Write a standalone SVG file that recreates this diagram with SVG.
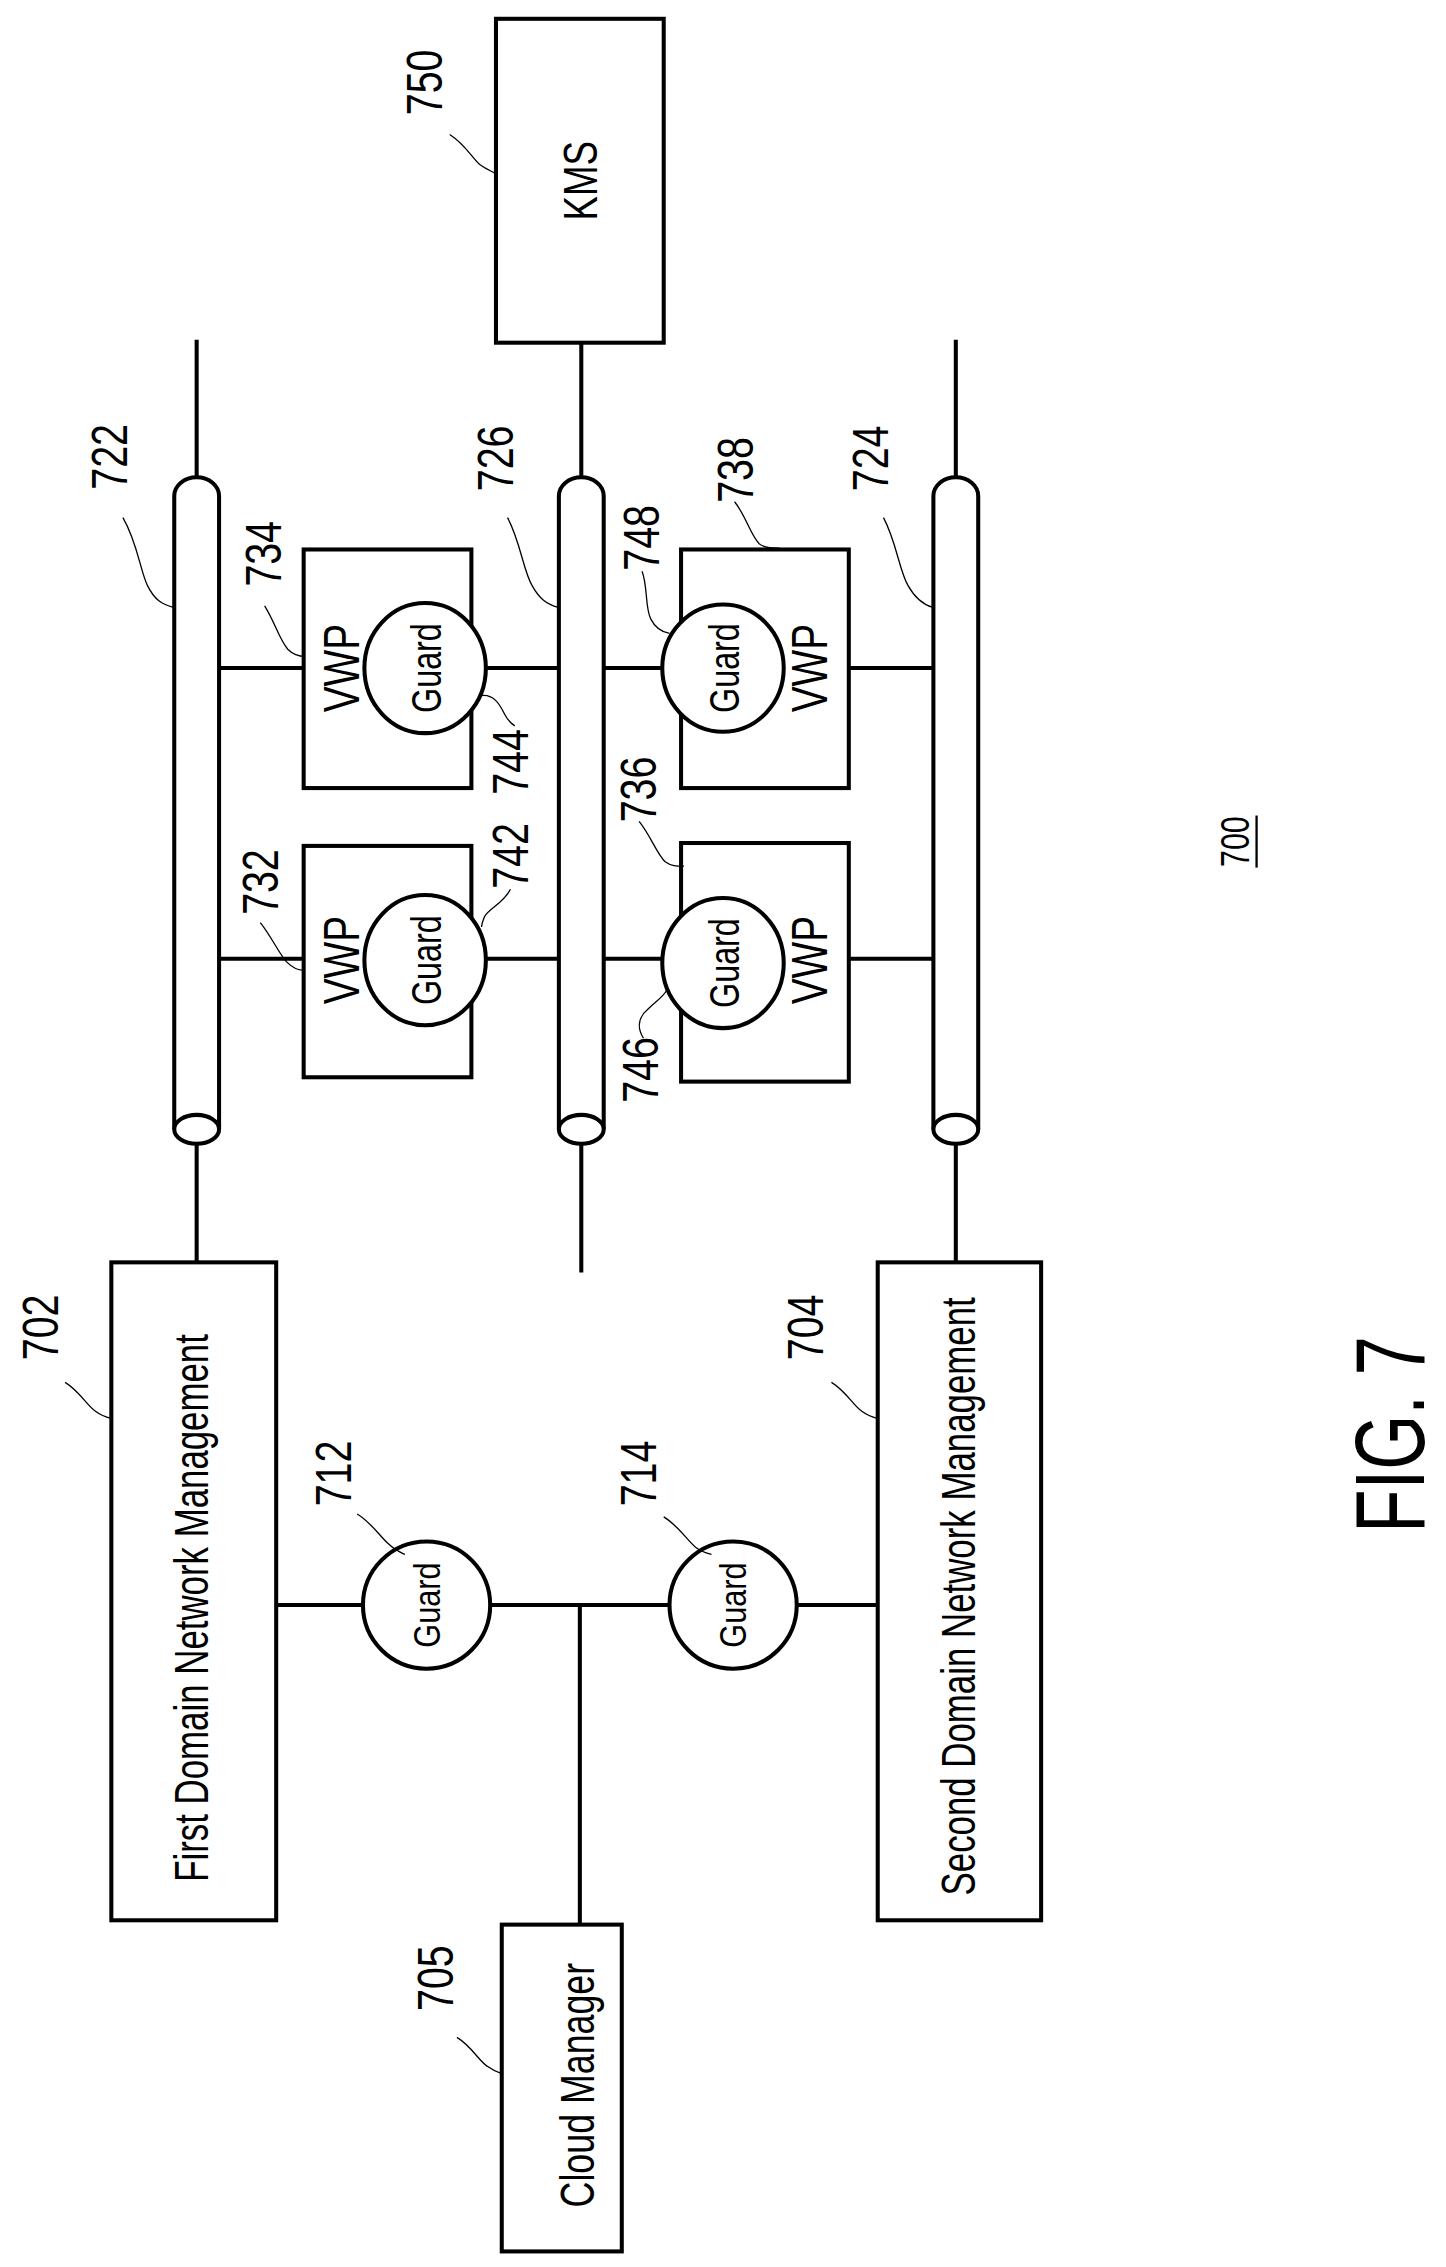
<svg xmlns="http://www.w3.org/2000/svg" width="1446" height="2267" viewBox="0 0 1446 2267">
<style>
.s{fill:none;stroke:#000;stroke-width:2.8}
.w{fill:#fff;stroke:#000;stroke-width:2.8}
.l{fill:none;stroke:#000;stroke-width:0.9}
text{font-family:"Liberation Sans",Arial,sans-serif;fill:#000;text-anchor:middle}
.n{font-size:34px}
.b{font-size:33px}
.g{font-size:29px}
.gs{font-size:25px}
.v{font-size:34px}
</style>
<rect width="1446" height="2267" fill="#fff"/>
<g transform="scale(1.446)">
<g id="connectors">
<path class="s" d="M136,235V330 M136,781V873 M402,237V330 M402,781V880 M661,235V330 M661,781V873"/>
<path class="s" d="M191,1110H251 M339,1110H463 M551,1110H607 M401,1110V1331"/>
<path class="s" d="M151,663H210 M336,663H386 M418,663H458 M587,663H646"/>
<path class="s" d="M151,462H210 M336,462H386 M418,462H458 M587,462H646"/>
</g>
<g id="n722"><path class="w" d="M120.5,781V343A15.5,13 0 0 1 151.5,343V781"/><ellipse class="w" cx="136" cy="781" rx="15.5" ry="10"/><text class="n" transform="translate(88,316) rotate(-90) scale(0.8,1)">722</text><path class="l" d="M85,358C95,375 97,395 102,405C107,415 112,418 120,420"/></g>
<g id="n726"><path class="w" d="M386.5,781V343A15.5,13 0 0 1 417.5,343V781"/><ellipse class="w" cx="402" cy="781" rx="15.5" ry="10"/><text class="n" transform="translate(355,317) rotate(-90) scale(0.8,1)">726</text><path class="l" d="M351,358C360,375 362,395 368,405C373,414 378,418 386,420"/></g>
<g id="n724"><path class="w" d="M645.5,781V343A15.5,13 0 0 1 676.5,343V781"/><ellipse class="w" cx="661" cy="781" rx="15.5" ry="10"/><text class="n" transform="translate(614,317) rotate(-90) scale(0.8,1)">724</text><path class="l" d="M611,358C620,375 622,395 628,405C633,414 638,418 645,420"/></g>
<g id="n750"><rect class="w" x="343" y="13" width="116" height="224"/><text class="b" transform="translate(413,125) rotate(-90) scale(0.77,1)">KMS</text><text class="n" transform="translate(306,57) rotate(-90) scale(0.8,1)">750</text><path class="l" d="M311,93C322,100 327,110 332,114C336,117 339,118 343,120"/></g>
<g id="n702"><rect class="w" x="77" y="873" width="114" height="455"/><text class="b" transform="translate(144,1112) rotate(-90) scale(0.73,1)">First Domain Network Management</text><text class="n" transform="translate(40,918) rotate(-90) scale(0.8,1)">702</text><path class="l" d="M45,956C55,962 60,972 66,976C70,979 73,980 77,981"/></g>
<g id="n704"><rect class="w" x="607" y="873" width="113" height="455"/><text class="b" transform="translate(674,1104) rotate(-90) scale(0.73,1)">Second Domain Network Management</text><text class="n" transform="translate(569,918) rotate(-90) scale(0.8,1)">704</text><path class="l" d="M575,956C585,962 590,972 596,976C600,979 603,980 607,981"/></g>
<g id="n705"><rect class="w" x="347" y="1331" width="83" height="226"/><text class="b" transform="translate(411,1442) rotate(-90) scale(0.75,1)">Cloud Manager</text><text class="n" transform="translate(313,1368) rotate(-90) scale(0.8,1)">705</text><path class="l" d="M316,1409C326,1415 331,1425 337,1429C341,1432 344,1433 347,1434"/></g>
<g id="n712"><circle class="w" cx="295" cy="1110" r="44"/><text class="gs" transform="translate(304,1110) rotate(-90) scale(0.85,1)">Guard</text><text class="n" transform="translate(243,1019) rotate(-90) scale(0.8,1)">712</text><path class="l" d="M247,1047C257,1053 263,1063 269,1068C273,1072 276,1073 280,1075"/></g>
<g id="n714"><circle class="w" cx="507" cy="1110" r="44"/><text class="gs" transform="translate(516,1110) rotate(-90) scale(0.85,1)">Guard</text><text class="n" transform="translate(454,1019) rotate(-90) scale(0.8,1)">714</text><path class="l" d="M459,1049C469,1055 475,1065 481,1070C485,1073 488,1074 492,1075"/></g>
<g id="n732"><rect class="w" x="210" y="585" width="116" height="160"/><text class="v" transform="translate(248,664) rotate(-90) scale(0.79,1)">VWP</text><text class="n" transform="translate(192,610) rotate(-90) scale(0.8,1)">732</text><path class="l" d="M180,638C188,648 192,658 198,665C202,669 206,671 210,671"/></g>
<g id="n734"><rect class="w" x="210" y="380" width="116" height="165"/><text class="v" transform="translate(248,462) rotate(-90) scale(0.79,1)">VWP</text><text class="n" transform="translate(194,383) rotate(-90) scale(0.8,1)">734</text><path class="l" d="M183,419C190,430 193,442 199,449C203,453 207,454 211,454"/></g>
<g id="n736"><rect class="w" x="471" y="583" width="116" height="165"/><text class="v" transform="translate(572,664) rotate(-90) scale(0.79,1)">VWP</text><text class="n" transform="translate(454,546) rotate(-90) scale(0.8,1)">736</text><path class="l" d="M442,568C450,578 454,590 460,596C464,599 468,599 473,599"/></g>
<g id="n738"><rect class="w" x="471" y="380" width="116" height="165"/><text class="v" transform="translate(572,462) rotate(-90) scale(0.79,1)">VWP</text><text class="n" transform="translate(521,325) rotate(-90) scale(0.8,1)">738</text><path class="l" d="M508,347C516,357 519,370 525,376C529,379 533,379 539,379"/></g>
<g id="n742"><ellipse class="w" cx="294" cy="664" rx="42" ry="45"/><text class="g" transform="translate(305,664) rotate(-90) scale(0.77,1)">Guard</text><text class="n" transform="translate(365,592) rotate(-90) scale(0.8,1)">742</text><path class="l" d="M353,615C348,625 338,628 335,634C334,637 333,639 333,641"/></g>
<g id="n744"><ellipse class="w" cx="294" cy="462" rx="42" ry="45"/><text class="g" transform="translate(305,462) rotate(-90) scale(0.77,1)">Guard</text><text class="n" transform="translate(365,527) rotate(-90) scale(0.8,1)">744</text><path class="l" d="M333,481C342,480 346,488 349,494C351,498 353,500 356,502"/></g>
<g id="n746"><ellipse class="w" cx="500" cy="666" rx="42" ry="45"/><text class="g" transform="translate(511,666) rotate(-90) scale(0.77,1)">Guard</text><text class="n" transform="translate(455,740) rotate(-90) scale(0.8,1)">746</text><path class="l" d="M445,718C440,710 442,703 448,698C454,692 458,690 461,685"/></g>
<g id="n748"><ellipse class="w" cx="500" cy="462" rx="42" ry="44"/><text class="g" transform="translate(511,462) rotate(-90) scale(0.77,1)">Guard</text><text class="n" transform="translate(456,372) rotate(-90) scale(0.8,1)">748</text><path class="l" d="M444,395C448,405 446,420 450,428C453,434 457,437 463,438"/></g>
<g id="label700"><text style="font-size:28px" transform="translate(864,582) rotate(-90) scale(0.75,1)">700</text><path class="s" style="stroke-width:1.6" d="M869,564V600"/></g>
<g id="fig"><text style="font-size:68px" transform="translate(985,992) rotate(-90) scale(0.72,1)">FIG. 7</text></g>
</g>
</svg>
